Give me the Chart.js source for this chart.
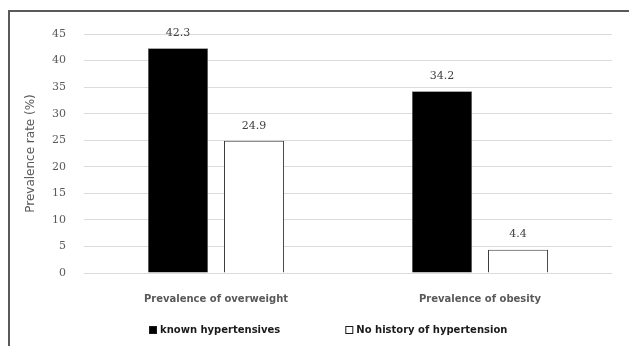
<!DOCTYPE html>
<html>
<head>
<meta charset="utf-8">
<script src="https://cdn.jsdelivr.net/npm/chart.js@4/dist/chart.umd.min.js"></script>
<style>
  html, body { margin: 0; padding: 0; background: #fff; }
  #wrap { position: relative; width: 629px; height: 346px; overflow: hidden; }
  #frame { position: absolute; left: 8px; top: 10px; width: 700px; height: 400px;
           border-top: 2px solid #5a5a5a; border-left: 2px solid #5a5a5a; }
  canvas { position: absolute; left: 0; top: 0; }
</style>
</head>
<body>
<div id="wrap">
  <div id="frame"></div>
  <canvas id="chart" width="629" height="346"></canvas>
</div>
<script>
// Prevalence of overweight / obesity by hypertension status
const categories = ['Prevalence of overweight', 'Prevalence of obesity'];
const knownHypertensives = [42.3, 34.2];
const noHistoryOfHypertension = [24.9, 4.4];
const seriesNames = ['known hypertensives', 'No history of hypertension'];
const yTicks = [0, 5, 10, 15, 20, 25, 30, 35, 40, 45];

// Writes each bar's value above it
const valueLabels = {
  id: 'valueLabels',
  afterDatasetsDraw(chart) {
    const ctx = chart.ctx;
    ctx.save();
    ctx.font = '11px "DejaVu Serif"';
    ctx.fillStyle = '#3f3f3f';
    ctx.textAlign = 'center';
    ctx.textBaseline = 'middle';
    chart.data.datasets.forEach((ds, i) => {
      chart.getDatasetMeta(i).data.forEach((bar, j) => {
        ctx.fillText(ds.data[j].toFixed(1), bar.x, bar.y - 15);
      });
    });
    ctx.restore();
  }
};

// Legend row under the category labels: square swatch + series name
const legendRow = {
  id: 'legendRow',
  afterDraw(chart) {
    const ctx = chart.ctx;
    const area = chart.chartArea;
    const y = area.bottom + 57;
    const box = 8, gap = 3, itemGap = 65;
    ctx.save();
    ctx.font = 'bold 10px "DejaVu Sans"';
    ctx.textBaseline = 'middle';
    ctx.textAlign = 'left';
    let x = area.left + 65;
    chart.data.datasets.forEach(ds => {
      ctx.fillStyle = ds.backgroundColor;
      ctx.fillRect(x, y - box / 2, box, box);
      ctx.strokeStyle = '#1a1a1a';
      ctx.lineWidth = 1;
      ctx.strokeRect(x + 0.5, y - box / 2 + 0.5, box - 1, box - 1);
      ctx.fillStyle = '#1a1a1a';
      ctx.fillText(ds.label, x + box + gap, y);
      x += box + gap + ctx.measureText(ds.label).width + itemGap;
    });
    ctx.restore();
  }
};

new Chart(document.getElementById('chart'), {
  type: 'bar',
  data: {
    labels: categories,
    datasets: [
      {
        label: seriesNames[0],
        data: knownHypertensives,
        backgroundColor: '#000000',
        borderColor: '#7f7f7f',
        borderWidth: 0.5
      },
      {
        label: seriesNames[1],
        data: noHistoryOfHypertension,
        backgroundColor: '#ffffff',
        borderColor: '#3a3a3a',
        borderWidth: 1
      }
    ]
  },
  options: {
    responsive: false,
    animation: false,
    devicePixelRatio: 1,
    layout: { padding: { left: 0, right: 17, top: 34, bottom: 42 } },
    datasets: { bar: { barPercentage: 0.79, categoryPercentage: 0.576 } },
    plugins: {
      tooltip: { enabled: false },
      legend: { display: false }
    },
    scales: {
      x: {
        afterFit(scale) { scale.height = 31; },
        grid: { display: false, drawTicks: false },
        border: { display: false },
        ticks: {
          padding: 20,
          maxRotation: 0,
          color: '#595959',
          font: { family: '"DejaVu Sans"', size: 10, weight: 'bold' }
        }
      },
      y: {
        min: 0,
        max: 45,
        afterBuildTicks(scale) { scale.ticks = yTicks.map(v => ({ value: v })); },
        afterFit(scale) { scale.width = 84; },
        grid: { color: '#dcdcdc', lineWidth: 1, drawTicks: false },
        border: { display: false },
        ticks: {
          padding: 18,
          color: '#595959',
          font: { family: '"DejaVu Serif"', size: 11 }
        },
        title: {
          display: true,
          text: 'Prevalence rate (%)',
          color: '#595959',
          padding: { top: 24, bottom: 0 },
          font: { family: '"DejaVu Sans"', size: 12 }
        }
      }
    }
  },
  plugins: [valueLabels, legendRow]
});
</script>
</body>
</html>
